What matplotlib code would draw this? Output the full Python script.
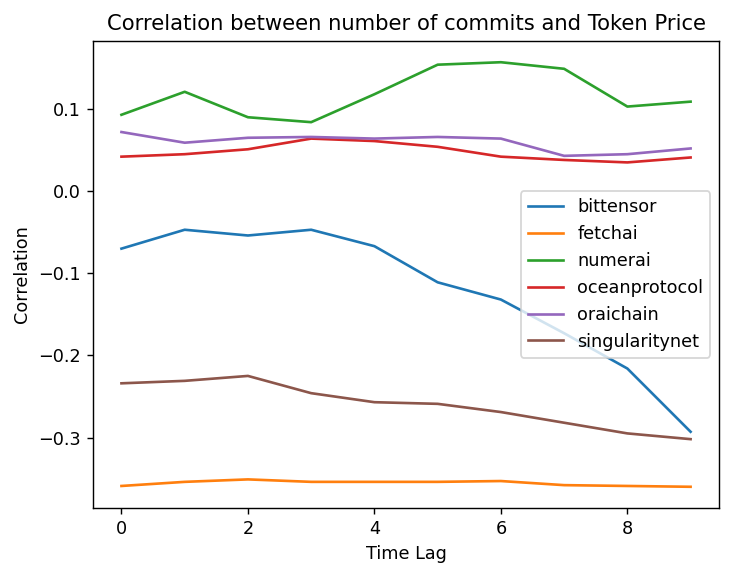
import matplotlib
matplotlib.use("Agg")
import matplotlib.pyplot as plt

# Time lag values
lags = [0, 1, 2, 3, 4, 5, 6, 7, 8, 9]

# Correlation per project
bittensor = [-0.070, -0.047, -0.054, -0.047, -0.067, -0.111, -0.132, -0.173, -0.216, -0.293]
fetchai = [-0.359, -0.354, -0.351, -0.354, -0.354, -0.354, -0.353, -0.358, -0.359, -0.360]
numerai = [0.093, 0.121, 0.090, 0.084, 0.118, 0.154, 0.157, 0.149, 0.103, 0.109]
oceanprotocol = [0.042, 0.045, 0.051, 0.064, 0.061, 0.054, 0.042, 0.038, 0.035, 0.041]
oraichain = [0.072, 0.059, 0.065, 0.066, 0.064, 0.066, 0.064, 0.043, 0.045, 0.052]
singularitynet = [-0.234, -0.231, -0.225, -0.246, -0.257, -0.259, -0.269, -0.282, -0.295, -0.302]

series = {
    "bittensor": bittensor,
    "fetchai": fetchai,
    "numerai": numerai,
    "oceanprotocol": oceanprotocol,
    "oraichain": oraichain,
    "singularitynet": singularitynet,
}

# reference looks like a default figure rendered at a higher dpi
dpi = 127
fig, ax = plt.subplots(figsize=(730 / dpi, 575 / dpi), dpi=dpi)
fig.subplots_adjust(left=0.1274, right=0.985, top=0.9287, bottom=0.1165)

for name, values in series.items():
    ax.plot(lags, values, label=name)

ax.set_title("Correlation between number of commits and Token Price")
ax.set_xlabel("Time Lag")
ax.set_ylabel("Correlation")
ax.legend(loc="center right")

fig.savefig("out.png", dpi=dpi)
